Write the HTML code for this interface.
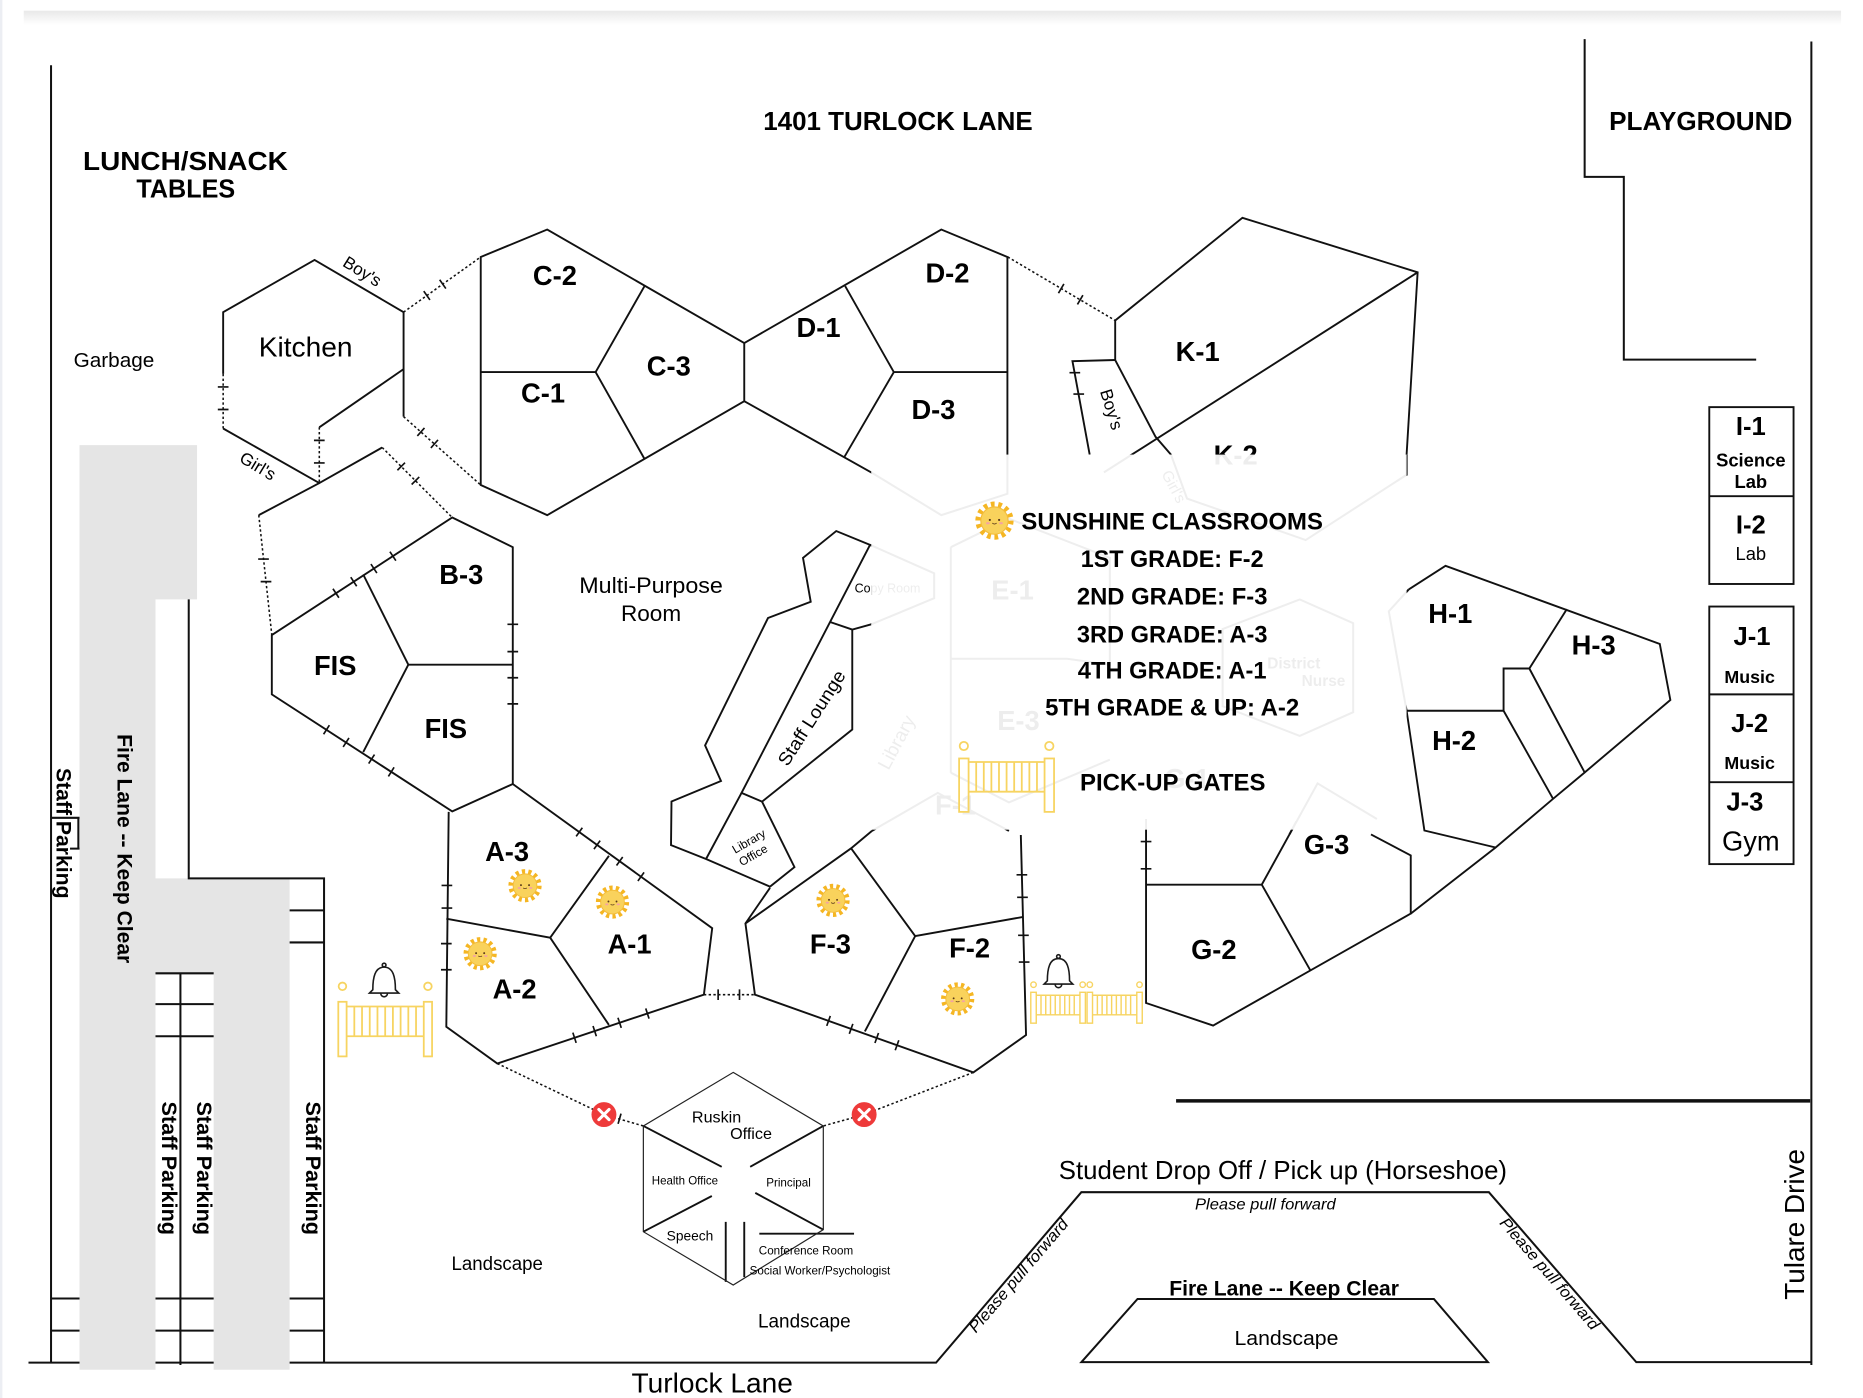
<!DOCTYPE html>
<html><head><meta charset="utf-8"><style>
html,body{margin:0;padding:0;background:#fff;}
svg{display:block;}
text{font-family:"Liberation Sans",Arial,sans-serif;fill:#000;}
</style></head><body>
<svg width="1863" height="1398" viewBox="0 0 1569.5 1177.8" preserveAspectRatio="none" xmlns="http://www.w3.org/2000/svg" xmlns:xlink="http://www.w3.org/1999/xlink">
<defs>
<linearGradient id="sh" x1="0" y1="0" x2="0" y2="1"><stop offset="0" stop-color="#e8e8e8"/><stop offset="1" stop-color="#ffffff"/></linearGradient>
<g id="sun">
 <circle r="11.5" fill="none" stroke="#f5b623" stroke-width="5" stroke-dasharray="2.6 2.56"/>
 <circle r="10" fill="#f9d25c" stroke="#f3bd3b" stroke-width="0.8"/>
 <circle cx="-3.4" cy="-0.5" r="0.8" fill="#5a3a1a"/>
 <circle cx="3.4" cy="-0.5" r="0.8" fill="#5a3a1a"/>
 <path d="M-1.6,1.8 Q0,3.2 1.6,1.8" stroke="#5a3a1a" stroke-width="0.6" fill="none"/>
 <ellipse cx="-4.8" cy="1.9" rx="1.4" ry="0.8" fill="#f4a3a3"/>
 <ellipse cx="4.8" cy="1.9" rx="1.4" ry="0.8" fill="#f4a3a3"/>
</g>
<g id="bell" fill="none" stroke="#1a1a1a" stroke-width="1.2">
 <circle cx="0" cy="-11.6" r="1.4"/>
 <path d="M-8.5,7 C-8.5,-2 -7,-10 0,-10 C7,-10 8.5,-2 8.5,7 L11,9.5 L-11,9.5 Z"/>
 <path d="M-2.5,9.8 A2.5,2.5 0 0 0 2.5,9.8"/>
</g>
<g id="rx"><circle r="10.5" fill="#ee3a3a"/><path d="M-4.3,-4.3 L4.3,4.3 M4.3,-4.3 L-4.3,4.3" stroke="#fff" stroke-width="2.6" stroke-linecap="round"/></g>
</defs>

<rect x="0" y="0" width="1569.5" height="1177.8" fill="#fff"/>
<rect x="20" y="9" width="1531" height="12" fill="url(#sh)"/>
<rect x="0" y="0" width="2" height="1178" fill="#eceef3"/>

<!-- road / border lines under gray -->
<g stroke="#111" stroke-width="1.7" fill="none">
 <path d="M43,55 V1148"/>
 <path d="M24,1148 H788.6 L911,1004.4 H1254.3 L1378.5,1147.6 H1526"/>
 <path d="M1526,35 V1150"/>
 <path d="M1335,33 V149 H1368 V303 H1479.5"/>
 <path d="M990.8,927.5 H1525" stroke-width="3"/>
 <path d="M911,1147.6 L958.3,1094.4 H1208 L1253.5,1147.6 Z"/>
</g>

<!-- gray lanes -->
<path d="M67,375 H166 V505 H131 V740 H244 V1154 H180 V820 H131 V1154 H67 Z" fill="#e5e5e5"/>

<g stroke="#111" stroke-width="1.7" fill="none">
 <path d="M159,505 V740 H273 V1148"/>
 <path d="M244,767 H273 M244,794 H273 M244,1094 H273 M244,1121 H273"/>
 <path d="M131,820 H180 M131,846 H180 M131,873 H180 M131,1094 H180 M131,1121 H180 M152,820 V1150"/>
 <path d="M43,1094 H67 M43,1121 H67 M43,689 H67 M59,715 H67 M66,689 V715"/>
</g>

<!-- vertical lane texts -->
<g font-weight="bold">
 <text transform="translate(99,618.5) rotate(90)" font-size="17.6" textLength="193" lengthAdjust="spacingAndGlyphs">Fire Lane -- Keep Clear</text>
 <text transform="translate(47.5,647) rotate(90)" font-size="18" textLength="110" lengthAdjust="spacingAndGlyphs">Staff Parking</text>
 <text transform="translate(136.5,928) rotate(90)" font-size="18" textLength="112.5" lengthAdjust="spacingAndGlyphs">Staff Parking</text>
 <text transform="translate(166,928) rotate(90)" font-size="18" textLength="112.5" lengthAdjust="spacingAndGlyphs">Staff Parking</text>
 <text transform="translate(258,928) rotate(90)" font-size="18" textLength="112.5" lengthAdjust="spacingAndGlyphs">Staff Parking</text>
</g>

<!-- faint underlying content (covered later by overlay) -->
<g stroke="#111" stroke-width="1.7" fill="none">
 <path d="M734,398 L793,434 L848.7,416 V383"/>
 <path d="M953.5,383 L930,398 M986.5,383 L1000,420 L1100,455 L1185,400 V383"/>
 <path d="M733,459 L787,483 V504 L734,526"/>
 <path d="M801,461 V651 M801,555 H899 M801,461 L850,437 L935,470 L935,560 L899,555 M801,651 L850,676 L935,640"/>
 <path d="M1030,530 L1095,505 L1140,525 V600 L1095,620 L1030,595 Z"/>
 <path d="M734.6,700 L790,668 L850,700 M1086.3,703 L1110,660 L1160,690"/>
 <path d="M1186.8,496.6 L1170,515 L1185,598.8"/>
</g>
<g fill="#000">
 <g font-weight="bold" font-size="23" text-anchor="middle">
  <text x="853" y="505">E-1</text><text x="858" y="615">E-3</text><text x="805" y="686">F-1</text><text x="1000" y="664">G-1</text>
 </g>
 <text transform="translate(760,628) rotate(-62)" font-size="16" text-anchor="middle">Library</text>
 <text x="1090" y="563" font-size="13" font-weight="bold" text-anchor="middle">District</text>
 <text x="1115" y="578" font-size="13" font-weight="bold" text-anchor="middle">Nurse</text>
 <text transform="translate(985,412) rotate(62)" font-size="13" text-anchor="middle">Girl's</text>
 <text x="720" y="499" font-size="10.5">Copy Room</text>
 <text x="1041" y="391.5" font-size="23" font-weight="bold" text-anchor="middle">K-2</text>
</g>

<!-- buildings -->
<g stroke="#111" stroke-width="1.6" fill="none" stroke-linejoin="miter">
 <!-- Kitchen -->
 <path d="M188,315 V263 L265,219 L340,263 V351"/>
 <path d="M188,361 L269,407 L322,377"/>
 <path d="M340,311 L269,360"/>
 <path d="M269,407 L218,434"/>
 <!-- FIS / B-3 -->
 <path d="M229,535 L381,436 L432,461 V660.5 L381,683.6 L229,585 Z"/>
 <path d="M306,484 L344,560 L432,560 M344,560 L306,633.6"/>
 <!-- A -->
 <path d="M378,684 L376,865 L419,896 L593,838 L600,782 L432,660.5"/>
 <path d="M376,774 L463.5,790 L513,721 M463.5,790 L513,863.5"/>
 <!-- F -->
 <path d="M648.7,748 L628,778 L636,838 L820,903.5 L864.4,872 L860,703.5"/>
 <path d="M628,778 L717,714.7 L734.6,700"/>
 <path d="M717,714.7 L771,788.6 L862,772.5"/>
 <path d="M771,788.6 L728.6,869"/>
 <!-- Staff lounge / library office -->
 <path d="M734,459.5 L704.5,447.4 L676.5,470 L683,507 L647,520.7 L594,628 L607.4,658 L565.7,675.3 L565.3,712 L594.8,723.7 L648.7,747 L669.3,730.5 L642,675.4 L718,614.6 V530.4 L734,526"/>
 <path d="M733,459 L624.7,668 L642,675.4"/>
 <path d="M624.7,668 L594.8,723.7"/>
 <path d="M699.3,524 L718,530.4"/>
 <!-- C -->
 <path d="M405,216.5 L461,193.4 L627,289 V338 L461,434 L405,408.6 Z"/>
 <path d="M405,313.5 H501.8 L543,241 M501.8,313.5 L543,386.7"/>
 <!-- D -->
 <path d="M734,398 L627,338 M627,289 L793,193.4 L848.7,216.5 V383"/>
 <path d="M712,241 L753,313.5 H848.7 M753,313.5 L711,385.6"/>
 <!-- K -->
 <path d="M939.5,303.3 V270 L1046.7,183.5 L1194.3,229.4 L1185,383"/>
 <path d="M1194.3,229.4 L953.5,383"/>
 <path d="M939.5,303.3 L903.5,304.3 L918,383"/>
 <path d="M939.5,303.3 L973.5,368 L986.5,383"/>
 <!-- G -->
 <path d="M965.5,690 V845 L1022,864 L1188.5,769.7 V720.7 L1155,703"/>
 <path d="M965.5,745.3 H1063 L1104.2,818 M1063,745.3 L1086.3,703 L1092,692"/>
 <!-- H -->
 <path d="M1186.8,496.6 L1217.8,476.7 L1398.3,542.5 L1407.2,589.7 L1335,650.8 L1308.4,673 L1260,714 L1188.5,769.7"/>
 <path d="M1185,598.8 L1200,699.7 L1260,714"/>
 <path d="M1185,598.8 H1266.7 V563.2 H1288.4 L1320,513.2"/>
 <path d="M1266.7,598.8 L1308.4,673 M1288.4,563.2 L1335,650.8"/>
 <!-- I / J -->
 <rect x="1440" y="343" width="71" height="149"/>
 <path d="M1440,418 H1511"/>
 <rect x="1440" y="511" width="71" height="217"/>
 <path d="M1440,585 H1511 M1440,659 H1511"/>
 <!-- Ruskin spokes -->
 <path d="M542,948.6 L608,983 M693.6,948.6 L632,983 M542,1037.7 L599.7,1007.6 M693.6,1036 L636.3,1005 M611.4,1029.4 V1080 M627,1029.4 V1076 M639.7,1039.4 H719.5"/>
 <!-- ticks -->
 <path stroke-width="1.4" d="M280.5,496 L285.5,503.6 M295.5,486.3 L300.5,493.9 M312.5,475.2 L317.5,482.8 M328.5,464.8 L333.5,472.4
 M427.5,526 H436.5 M427.5,549 H436.5 M427.5,571 H436.5 M427.5,593 H436.5
 M272.6,618.6 L277.5,611 M289.1,629.3 L294,621.7 M310.6,643.3 L315.5,635.7 M327.2,654.1 L332,646.5
 M372,746 H381 M372,765 H381 M371.5,795 H380.5 M371.5,817 H380.5
 M485.4,704.6 L490.6,697.4 M500.4,715.4 L505.6,708.2 M519.4,729.2 L524.6,722 M537.4,742.2 L542.6,735
 M482.6,870 L485.4,878.6 M499.6,864.4 L502.4,873 M520.6,857.4 L523.4,866 M544,849.6 L546.8,858.2
 M605,833.5 V842.5 M623,833.5 V842.5
 M696.5,864.3 L699.5,855.9 M715.5,871 L718.5,862.6 M737.1,878.7 L740.1,870.3 M754.2,884.8 L757.2,876.4
 M856.4,737 H865.4 M856.9,756 H865.9 M857.7,788 H866.7 M858.3,810.5 H867.3
 M961,709 H970 M961,732 H970
 M183.5,326 H192.5 M183.5,345 H192.5
 M264.5,371 H273.5 M264.5,390 H273.5
 M217.5,471 H226.5 M219.6,490 H228.6
 M357,245.3 L362.2,252.7 M370.4,235.7 L375.6,243.1
 M351.6,367.3 L357.6,360.5 M363,377.4 L369,370.6
 M334.8,396.2 L341.2,389.8 M346.8,408.2 L353.2,401.8
 M891.7,247 L896.3,239.2 M907.7,256.5 L912.3,248.7
 M901,314 H910 M904.3,332 H913.3
 M520.7,946.8 L523.2,938.2"/>
</g>
<!-- Ruskin hexagon thin -->
<path d="M617.7,903.5 L693.6,948.6 V1036 L617.7,1082.6 L542,1037.7 V948.6 Z" stroke="#222" stroke-width="1" fill="none"/>

<!-- dotted connectors -->
<g stroke="#111" stroke-width="1.3" fill="none" stroke-dasharray="2 2">
 <path d="M188,315 V361"/>
 <path d="M269,360 V407"/>
 <path d="M218,434 L229,535"/>
 <path d="M322,377 L381,436"/>
 <path d="M340,263 L405,216.5"/>
 <path d="M340,351 L405,408.6"/>
 <path d="M849,216.5 L939.5,270"/>
 <path d="M593,838 H636"/>
 <path d="M419,896 L508.8,939 L542,948.6"/>
 <path d="M820,903.5 L728,939 L693.6,948.6"/>
</g>

<!-- faded overlay -->
<rect x="734" y="383" width="451" height="316" fill="#fff" fill-opacity="0.93"/>

<!-- suns -->
<use href="#sun" xlink:href="#sun" transform="translate(442.3,746.2)"/>
<use href="#sun" xlink:href="#sun" transform="translate(516,760)"/>
<use href="#sun" xlink:href="#sun" transform="translate(404.5,803.5)"/>
<use href="#sun" xlink:href="#sun" transform="translate(701.8,758.6)"/>
<use href="#sun" xlink:href="#sun" transform="translate(806.8,841.6)"/>
<use href="#sun" xlink:href="#sun" transform="translate(837.8,438.6) scale(1.15)"/>

<!-- bells -->
<use href="#bell" xlink:href="#bell" transform="translate(323.6,826) scale(1.12)"/>
<use href="#bell" xlink:href="#bell" transform="translate(891.7,818.6) scale(1.1)"/>

<!-- red X -->
<use href="#rx" xlink:href="#rx" transform="translate(508.8,939)"/>
<use href="#rx" xlink:href="#rx" transform="translate(728,939)"/>

<!-- gates -->
<g stroke="#f7d461" stroke-width="1.5" fill="none">
 <rect x="285" y="844" width="7" height="46"/>
 <rect x="357" y="844" width="7" height="46"/>
 <path d="M292,848 H357 M292,873 H357 M298.5,848 V873 M305,848 V873 M311.5,848 V873 M318,848 V873 M324.5,848 V873 M331,848 V873 M337.5,848 V873 M344,848 V873 M350.5,848 V873"/>
 <circle cx="288.5" cy="831" r="3.2"/><circle cx="360.5" cy="831" r="3.2"/>

 <rect x="808" y="639" width="8" height="45"/>
 <rect x="880" y="639" width="8" height="45"/>
 <path d="M816,642 H880 M816,667 H880 M822.4,642 V667 M828.8,642 V667 M835.2,642 V667 M841.6,642 V667 M848,642 V667 M854.4,642 V667 M860.8,642 V667 M867.2,642 V667 M873.6,642 V667"/>
 <circle cx="812" cy="628.5" r="3.5"/><circle cx="884" cy="628.5" r="3.5"/>

 <g stroke-width="1.2">
 <rect x="868.4" y="836" width="4.6" height="26"/>
 <rect x="909.8" y="836" width="4.6" height="26"/>
 <path d="M873,838.5 H909.8 M873,855 H909.8 M877,838.5 V855 M881,838.5 V855 M885,838.5 V855 M889,838.5 V855 M893,838.5 V855 M897,838.5 V855 M901,838.5 V855 M905,838.5 V855"/>
 <rect x="915.8" y="836" width="4.6" height="26"/>
 <rect x="957.7" y="836" width="4.6" height="26"/>
 <path d="M920.4,838.5 H957.7 M920.4,855 H957.7 M924.5,838.5 V855 M928.5,838.5 V855 M932.5,838.5 V855 M936.5,838.5 V855 M940.5,838.5 V855 M944.5,838.5 V855 M948.5,838.5 V855 M952.5,838.5 V855"/>
 <circle cx="870.7" cy="829.6" r="2.3"/><circle cx="912.1" cy="829.6" r="2.3"/>
 <circle cx="918.1" cy="829.6" r="2.3"/><circle cx="960" cy="829.6" r="2.3"/>
 </g>
</g>

<!-- titles -->
<g font-weight="bold" text-anchor="middle">
 <text x="756.5" y="109.5" font-size="22" textLength="227" lengthAdjust="spacingAndGlyphs">1401 TURLOCK LANE</text>
 <text x="156.2" y="143.2" font-size="21.5" textLength="172.5" lengthAdjust="spacingAndGlyphs">LUNCH/SNACK</text>
 <text x="156.5" y="166.5" font-size="21.5" textLength="83.2" lengthAdjust="spacingAndGlyphs">TABLES</text>
 <text x="1432.8" y="109.5" font-size="21.7" textLength="154.3" lengthAdjust="spacingAndGlyphs">PLAYGROUND</text>
</g>
<text x="96" y="309.3" font-size="17.5" text-anchor="middle" textLength="68" lengthAdjust="spacingAndGlyphs">Garbage</text>
<text x="257.5" y="300.2" font-size="23" text-anchor="middle" textLength="79" lengthAdjust="spacingAndGlyphs">Kitchen</text>
<text x="548.5" y="499.5" font-size="19" text-anchor="middle" textLength="121" lengthAdjust="spacingAndGlyphs">Multi-Purpose</text>
<text x="548.5" y="523" font-size="19" text-anchor="middle">Room</text>

<!-- small rotated labels -->
<text transform="translate(305,229) rotate(32)" y="4.5" font-size="14.5" text-anchor="middle">Boy's</text>
<text transform="translate(217,393) rotate(31)" y="4.5" font-size="14.5" text-anchor="middle">Girl's</text>
<text transform="translate(936,345) rotate(73)" y="4.5" font-size="14.5" text-anchor="middle">Boy's</text>
<text transform="translate(684,605) rotate(-57.4)" y="5" font-size="15.5" text-anchor="middle" textLength="92" lengthAdjust="spacingAndGlyphs">Staff Lounge</text>
<text transform="translate(630.8,708.7) rotate(-30)" y="3.5" font-size="10" text-anchor="middle">Library</text>
<text transform="translate(634.5,720.4) rotate(-30)" y="3.5" font-size="10" text-anchor="middle">Office</text>

<!-- room labels -->
<g font-weight="bold" font-size="23" text-anchor="middle">
 <text x="467.5" y="240">C-2</text>
 <text x="563.4" y="316.5">C-3</text>
 <text x="457.5" y="339.2">C-1</text>
 <text x="798.2" y="238.2">D-2</text>
 <text x="689.6" y="283.9">D-1</text>
 <text x="786.4" y="353.2">D-3</text>
 <text x="1009" y="304.2">K-1</text>
 <text x="388.6" y="492.2">B-3</text>
 <text x="282.4" y="568.7">FIS</text>
 <text x="375.6" y="621.9">FIS</text>
 <text x="427.2" y="725.2">A-3</text>
 <text x="530.4" y="803.5">A-1</text>
 <text x="433.5" y="841.1">A-2</text>
 <text x="699.6" y="803.5">F-3</text>
 <text x="816.8" y="806.9">F-2</text>
 <text x="1117.6" y="719.6">G-3</text>
 <text x="1022.6" y="807.9">G-2</text>
 <text x="1221.8" y="524.7">H-1</text>
 <text x="1342.6" y="551.4">H-3</text>
 <text x="1225" y="632">H-2</text>
</g>

<!-- I / J labels -->
<g text-anchor="middle">
 <text x="1475" y="366.5" font-size="21.6" font-weight="bold">I-1</text>
 <text x="1475" y="393" font-size="15.5" font-weight="bold">Science</text>
 <text x="1475" y="411" font-size="15.5" font-weight="bold">Lab</text>
 <text x="1475" y="449.4" font-size="21.6" font-weight="bold">I-2</text>
 <text x="1475" y="471.6" font-size="15.5">Lab</text>
 <text x="1476" y="543.2" font-size="21.6" font-weight="bold">J-1</text>
 <text x="1474" y="575.4" font-size="15" font-weight="bold">Music</text>
 <text x="1474" y="616.5" font-size="21.6" font-weight="bold">J-2</text>
 <text x="1474" y="648" font-size="15" font-weight="bold">Music</text>
 <text x="1470" y="683" font-size="21.6" font-weight="bold">J-3</text>
 <text x="1475" y="716.4" font-size="23">Gym</text>
</g>

<!-- legend -->
<g font-weight="bold" font-size="20.5">
 <text x="860.5" y="445.9" textLength="254" lengthAdjust="spacingAndGlyphs">SUNSHINE CLASSROOMS</text>
 <g text-anchor="middle">
  <text x="987.5" y="477.7" textLength="154" lengthAdjust="spacingAndGlyphs">1ST GRADE: F-2</text>
  <text x="987.5" y="509.2" textLength="160.6" lengthAdjust="spacingAndGlyphs">2ND GRADE: F-3</text>
  <text x="987.5" y="541.4" textLength="160.6" lengthAdjust="spacingAndGlyphs">3RD GRADE: A-3</text>
  <text x="987.5" y="571.7" textLength="159" lengthAdjust="spacingAndGlyphs">4TH GRADE: A-1</text>
  <text x="987.5" y="602.7" textLength="214" lengthAdjust="spacingAndGlyphs">5TH GRADE &amp; UP: A-2</text>
  <text x="988" y="665.8" textLength="156.3" lengthAdjust="spacingAndGlyphs">PICK-UP GATES</text>
 </g>
</g>

<!-- office labels -->
<g text-anchor="middle">
 <text x="603.7" y="945.8" font-size="13.6">Ruskin</text>
 <text x="632.7" y="959.8" font-size="13.6">Office</text>
 <text x="577" y="997.8" font-size="9.7">Health Office</text>
 <text x="664.3" y="999.8" font-size="9.8">Principal</text>
 <text x="581.3" y="1045.2" font-size="11.6">Speech</text>
 <text x="679" y="1056.8" font-size="9.8">Conference Room</text>
 <text x="690.8" y="1073.8" font-size="9.8">Social Worker/Psychologist</text>
</g>

<!-- bottom labels -->
<text x="418.9" y="1070" font-size="16" text-anchor="middle" textLength="77" lengthAdjust="spacingAndGlyphs">Landscape</text>
<text x="677.6" y="1118.6" font-size="16" text-anchor="middle" textLength="78" lengthAdjust="spacingAndGlyphs">Landscape</text>
<text x="600" y="1173" font-size="23.5" text-anchor="middle" textLength="136" lengthAdjust="spacingAndGlyphs">Turlock Lane</text>
<text x="892" y="993.3" font-size="21.6" textLength="377.6" lengthAdjust="spacingAndGlyphs">Student Drop Off / Pick up (Horseshoe)</text>
<text x="1066" y="1019" font-size="13.5" font-style="italic" text-anchor="middle" textLength="118.5" lengthAdjust="spacingAndGlyphs">Please pull forward</text>
<text transform="translate(861.4,1077.6) rotate(-49.5)" font-size="13.5" font-style="italic" text-anchor="middle" textLength="121" lengthAdjust="spacingAndGlyphs">Please pull forward</text>
<text transform="translate(1302,1076) rotate(49.1)" font-size="13.5" font-style="italic" text-anchor="middle" textLength="120" lengthAdjust="spacingAndGlyphs">Please pull forward</text>
<text x="985" y="1091.6" font-size="17.7" font-weight="bold" textLength="193.6" lengthAdjust="spacingAndGlyphs">Fire Lane -- Keep Clear</text>
<text x="1083.8" y="1133" font-size="17" text-anchor="middle" textLength="87.6" lengthAdjust="spacingAndGlyphs">Landscape</text>
<text transform="translate(1520,1095) rotate(-90)" font-size="23" textLength="127" lengthAdjust="spacingAndGlyphs">Tulare Drive</text>

</svg>
</body></html>
